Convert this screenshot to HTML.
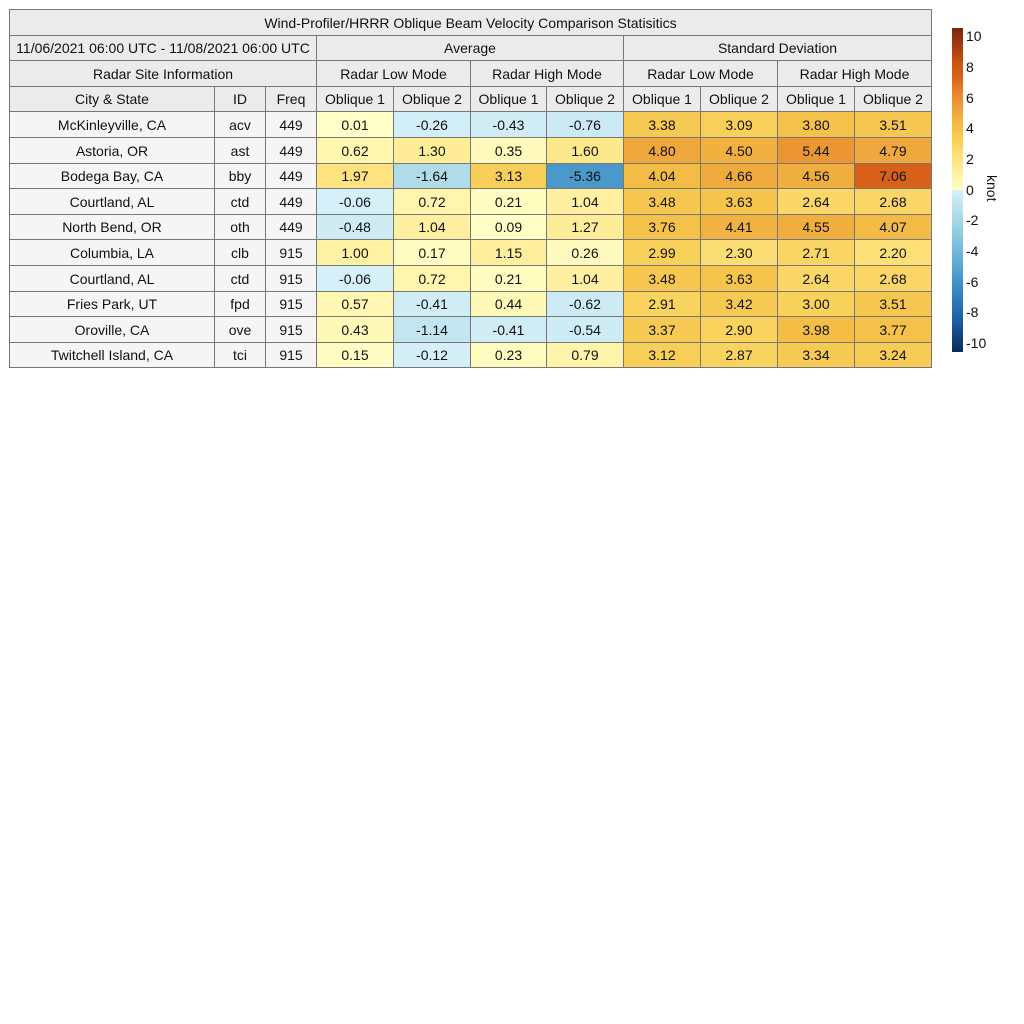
<!DOCTYPE html>
<html><head><meta charset="utf-8"><style>
body{margin:0;background:#fff;width:1024px;height:1024px;position:relative;font-family:"Liberation Sans",sans-serif;}
.c{position:absolute;box-sizing:border-box;border:1px solid #777;display:flex;align-items:center;justify-content:center;font-size:14px;color:#111;margin:-1px 0 0 -1px;}
.h{background:#ebebeb;}
.t{background:#f5f5f5;}
#cb{position:absolute;left:952px;top:28px;width:11px;height:324px;background:linear-gradient(to bottom,#7a2410 0%,#c94e10 10%,#d9621a 15%,#e8862a 20%,#eea23a 25%,#f3bd46 30%,#f8d15a 35%,#fde27e 40%,#fff1a2 45%,#ffffc8 50%,#d6f0f8 50%,#a3d6e6 60%,#6cb5d8 70%,#3a8cc4 80%,#1f5ea6 90%,#0a2a5a 100%);}
.tk{position:absolute;left:966px;font-size:14px;color:#111;}
</style></head><body>
<div id="t"></div>
<div id="cb"></div>
<div class="tk" style="top:28px">10</div>
<div class="tk" style="top:59px">8</div>
<div class="tk" style="top:90px">6</div>
<div class="tk" style="top:120px">4</div>
<div class="tk" style="top:151px">2</div>
<div class="tk" style="top:182px">0</div>
<div class="tk" style="top:212px">-2</div>
<div class="tk" style="top:243px">-4</div>
<div class="tk" style="top:274px">-6</div>
<div class="tk" style="top:304px">-8</div>
<div class="tk" style="top:335px">-10</div>
<div style="position:absolute;left:1000px;top:175px;font-size:14px;line-height:16px;transform:rotate(90deg);transform-origin:0 0;color:#111">knot</div>
<script>
var X=[10,215,266,317,394,471,547,624,701,778,855,932];
var Y=[10,36,61,87,112,138,164,189,215,240,266,292,317,343,368];
var out=[];
function cell(x0,x1,y0,y1,txt,cls,bg){out.push('<div class="c '+(cls||'')+'" style="left:'+x0+'px;top:'+y0+'px;width:'+(x1-x0+1)+'px;height:'+(y1-y0+1)+'px;'+(bg?'background:'+bg+';':'')+'">'+txt+'</div>');}
cell(X[0],X[11],Y[0],Y[1],'Wind-Profiler/HRRR Oblique Beam Velocity Comparison Statisitics','h');
cell(X[0],X[3],Y[1],Y[2],'11/06/2021 06:00 UTC - 11/08/2021 06:00 UTC','h');
cell(X[3],X[7],Y[1],Y[2],'Average','h');
cell(X[7],X[11],Y[1],Y[2],'Standard Deviation','h');
cell(X[0],X[3],Y[2],Y[3],'Radar Site Information','h');
var m=['Radar Low Mode','Radar High Mode','Radar Low Mode','Radar High Mode'];
for(var i=0;i<4;i++)cell(X[3+2*i],X[5+2*i],Y[2],Y[3],m[i],'h');
var hd=['City &amp; State','ID','Freq'];
for(i=0;i<3;i++)cell(X[i],X[i+1],Y[3],Y[4],hd[i],'h');
for(i=0;i<8;i++)cell(X[3+i],X[4+i],Y[3],Y[4],'Oblique '+(i%2+1),'h');
var rows=[
['McKinleyville, CA','acv','449',0.01,-0.26,-0.43,-0.76,3.38,3.09,3.80,3.51],
['Astoria, OR','ast','449',0.62,1.30,0.35,1.60,4.80,4.50,5.44,4.79],
['Bodega Bay, CA','bby','449',1.97,-1.64,3.13,-5.36,4.04,4.66,4.56,7.06],
['Courtland, AL','ctd','449',-0.06,0.72,0.21,1.04,3.48,3.63,2.64,2.68],
['North Bend, OR','oth','449',-0.48,1.04,0.09,1.27,3.76,4.41,4.55,4.07],
['Columbia, LA','clb','915',1.00,0.17,1.15,0.26,2.99,2.30,2.71,2.20],
['Courtland, AL','ctd','915',-0.06,0.72,0.21,1.04,3.48,3.63,2.64,2.68],
['Fries Park, UT','fpd','915',0.57,-0.41,0.44,-0.62,2.91,3.42,3.00,3.51],
['Oroville, CA','ove','915',0.43,-1.14,-0.41,-0.54,3.37,2.90,3.98,3.77],
['Twitchell Island, CA','tci','915',0.15,-0.12,0.23,0.79,3.12,2.87,3.34,3.24]];
var P=[[0,'#ffffc8'],[1,'#fff1a2'],[2,'#fde27e'],[3,'#f8d15a'],[4,'#f3bd46'],[5,'#eea23a'],[6,'#e8862a'],[7,'#d9621a'],[8,'#c94e10'],[10,'#7a2410']];
var N=[[0,'#d6f0f8'],[1,'#c8e8f2'],[2,'#a3d6e6'],[4,'#6cb5d8'],[6,'#3a8cc4'],[8,'#1f5ea6'],[10,'#0a2a5a']];
function h2(c){return [parseInt(c.substr(1,2),16),parseInt(c.substr(3,2),16),parseInt(c.substr(5,2),16)];}
function col(v){var s=v>=0?P:N;v=Math.abs(v);for(var k=0;k<s.length-1;k++){if(v<=s[k+1][0]){var f=(v-s[k][0])/(s[k+1][0]-s[k][0]);var a=h2(s[k][1]),b=h2(s[k+1][1]);return 'rgb('+a.map(function(x,j){return Math.round(x+(b[j]-x)*f)}).join(',')+')';}}return s[s.length-1][1];}
for(var r=0;r<rows.length;r++){var y0=Y[4+r],y1=Y[5+r];
for(i=0;i<3;i++)cell(X[i],X[i+1],y0,y1,rows[r][i],'t');
for(i=0;i<8;i++){var v=rows[r][3+i];cell(X[3+i],X[4+i],y0,y1,v.toFixed(2),'',col(v));}}
document.getElementById('t').innerHTML=out.join('');
</script>
</body></html>
